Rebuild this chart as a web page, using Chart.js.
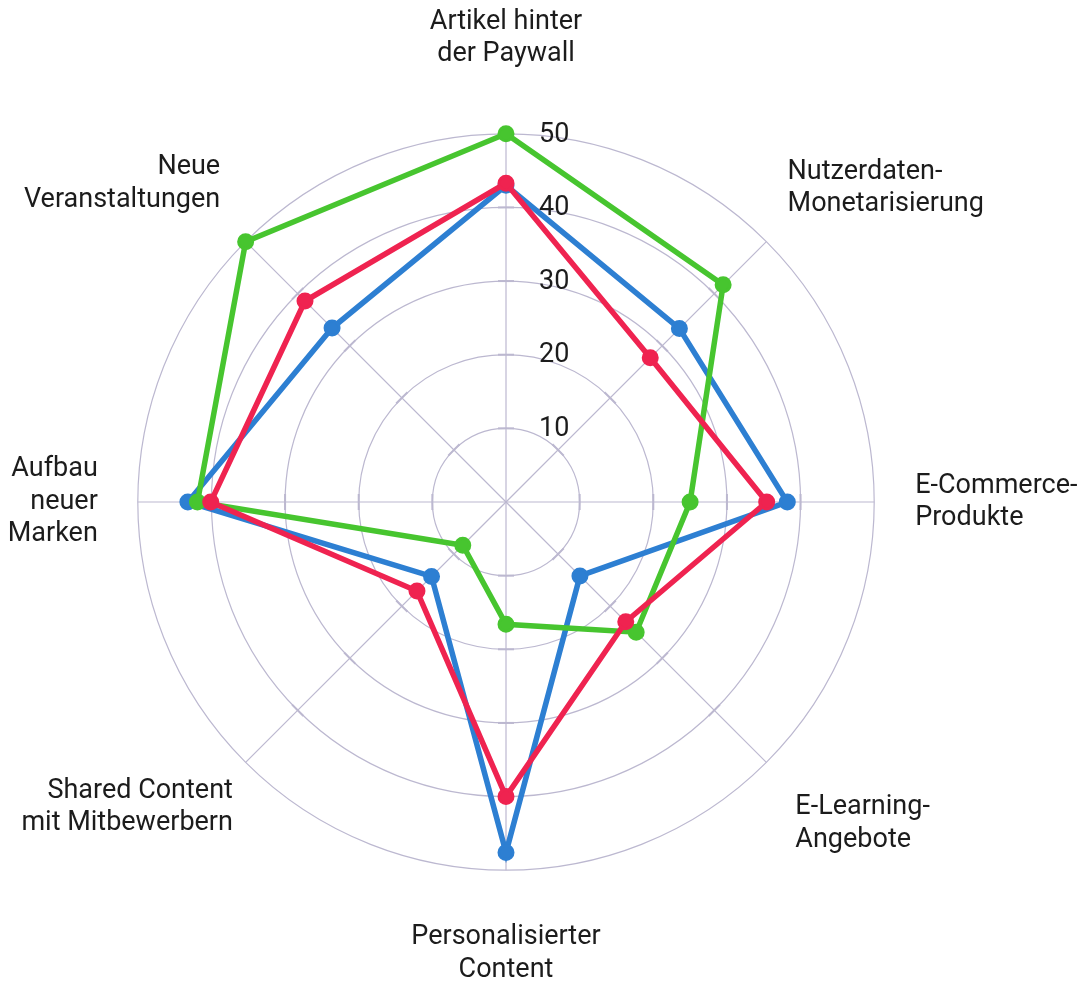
<!DOCTYPE html>
<html lang="de">
<head>
<meta charset="utf-8">
<title>Radar</title>
<script src="https://cdn.jsdelivr.net/npm/chart.js@4.4.1/dist/chart.umd.min.js"></script>
<style>
  html, body { margin: 0; padding: 0; background: #fff; overflow: hidden; }
  /* canvas a bit larger than the window so the radar gets the same radius as the original */
  #wrap { position: absolute; left: -32px; top: 0; width: 1150px; height: 992px; }
</style>
</head>
<body>
<div id="wrap"><canvas id="radarChart"></canvas></div>
<script>
// DATA
const categories = [
    ['Artikel hinter', 'der Paywall'],
    ['Nutzerdaten-', 'Monetarisierung'],
    ['E-Commerce-', 'Produkte'],
    ['E-Learning-', 'Angebote'],
    ['Personalisierter', 'Content'],
    ['Shared Content', 'mit Mitbewerbern'],
    ['Aufbau', 'neuer', 'Marken'],
    ['Neue', 'Veranstaltungen']
];
const blueValues = [43, 33.3, 38.2, 14.2, 47.6, 14.3, 43.2, 33.4];
const redValues = [43.3, 27.7, 35.4, 23, 40, 17.1, 40.1, 38.6];
const greenValues = [50, 41.7, 25, 25, 16.6, 8.3, 41.9, 50];
const tickValues = [10, 20, 30, 40, 50];

const gridColor = 'rgb(188, 184, 208)';
const textColor = '#1c1c1c';
// distance between outer ring and each category label
const labelPadding = [63, 30, 41, 41, 51, 18, 40, 36];

// small marks across the spokes + value labels right of the top spoke
const radarExtras = {
    id: 'radarExtras',
    beforeDatasetsDraw(chart) {
        const scale = chart.scales.r;
        const ctx = chart.ctx;
        ctx.save();
        ctx.strokeStyle = gridColor;
        ctx.lineWidth = 2;
        categories.forEach((c, i) => {
            const a = scale.getIndexAngle(i);
            tickValues.slice(0, -1).forEach(v => {
                const p = scale.getPointPositionForValue(i, v);
                const dx = Math.cos(a) * 8, dy = Math.sin(a) * 8;
                ctx.beginPath();
                ctx.moveTo(p.x - dx, p.y - dy);
                ctx.lineTo(p.x + dx, p.y + dy);
                ctx.stroke();
            });
        });
        ctx.restore();
    },
    afterDatasetsDraw(chart) {
        const scale = chart.scales.r;
        const ctx = chart.ctx;
        ctx.save();
        ctx.font = '27px Roboto';
        ctx.fillStyle = textColor;
        ctx.textAlign = 'left';
        ctx.textBaseline = 'middle';
        tickValues.forEach(v => {
            const p = scale.getPointPositionForValue(0, v);
            ctx.fillText(String(v), p.x + 33, p.y + 1);
        });
        ctx.restore();
    }
};

function series(values, color) {
    return {
        data: values,
        borderColor: color,
        backgroundColor: color,
        pointBackgroundColor: color,
        pointBorderColor: color,
        borderWidth: 5.5,
        pointRadius: 7,
        pointBorderWidth: 3,
        pointHoverRadius: 7,
        fill: false,
        tension: 0
    };
}

document.addEventListener('DOMContentLoaded', function () {
    const ctx = document.getElementById('radarChart').getContext('2d');
    new Chart(ctx, {
        type: 'radar',
        data: {
            labels: categories,
            // first dataset is drawn last (on top)
            datasets: [
                series(redValues, '#ef2350'),
                series(greenValues, '#47c52f'),
                series(blueValues, '#2d7fd2')
            ]
        },
        options: {
            responsive: true,
            maintainAspectRatio: false,
            animation: false,
            plugins: {
                legend: { display: false },
                tooltip: { enabled: false }
            },
            scales: {
                r: {
                    min: 0,
                    max: 50,
                    ticks: { display: false, stepSize: 10 },
                    grid: { circular: true, color: gridColor, lineWidth: 1.2 },
                    angleLines: { color: gridColor, lineWidth: 1.2 },
                    pointLabels: {
                        color: textColor,
                        font: { family: 'Roboto', size: 27, lineHeight: 1.2 },
                        padding: c => labelPadding[c.index]
                    }
                }
            }
        },
        plugins: [radarExtras]
    });
});
</script>
</body>
</html>
